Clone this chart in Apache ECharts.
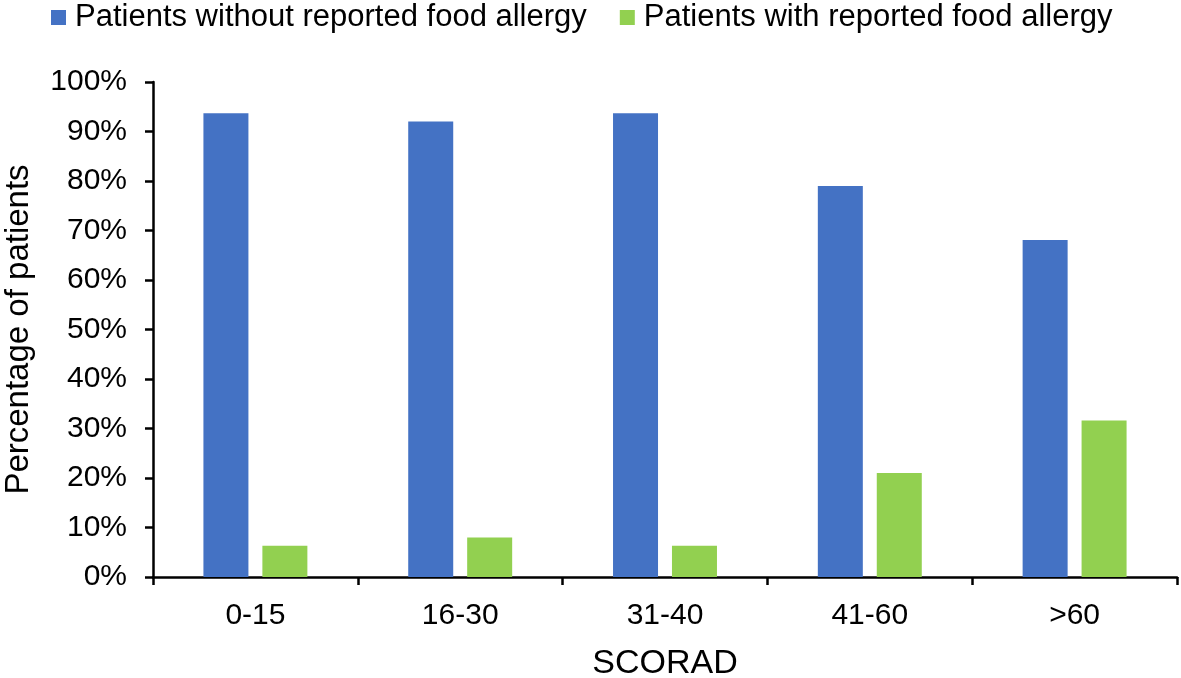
<!DOCTYPE html>
<html>
<head>
<meta charset="utf-8">
<script src="https://cdn.jsdelivr.net/npm/echarts@6/dist/echarts.min.js"></script>
<style>
html,body{margin:0;padding:0;background:#fff;}
#chart{width:1181px;height:678px;}
</style>
</head>
<body>
<div id="chart"></div>
<script>
const categories = ['0-15', '16-30', '31-40', '41-60', '>60'];
const withoutAllergy = [93.7, 92.0, 93.7, 79.0, 68.1];
const withAllergy = [6.3, 8.0, 6.3, 21.0, 31.6];
const seriesNames = ['Patients without reported food allergy', 'Patients with reported food allergy'];
const yTicks = [0, 10, 20, 30, 40, 50, 60, 70, 80, 90, 100];

const FONT = '"Liberation Sans", Arial, sans-serif';
const chart = echarts.init(document.getElementById('chart'), null, {renderer: 'canvas'});
chart.setOption({
  animation: false,
  backgroundColor: '#fff',
  textStyle: {fontFamily: FONT, color: '#000'},
  legend: {
    left: 51, top: 2, padding: 0,
    icon: 'rect', itemWidth: 15, itemHeight: 15, itemGap: 33,
    textStyle: {fontFamily: FONT, fontSize: 31, color: '#000', padding: [0, 0, 0, 4]},
    data: seriesNames
  },
  grid: {left: 153, right: 4, top: 82, bottom: 101, containLabel: false, outerBoundsMode: 'none'},
  xAxis: {
    type: 'category',
    data: categories,
    name: 'SCORAD', nameLocation: 'middle', nameGap: 70,
    nameTextStyle: {fontFamily: FONT, fontSize: 34, color: '#000'},
    axisLine: {lineStyle: {color: '#000', width: 2.5}},
    axisTick: {show: true, length: 8, lineStyle: {color: '#000', width: 2.5}},
    axisLabel: {fontFamily: FONT, fontSize: 30, color: '#000', margin: 24}
  },
  yAxis: {
    type: 'value', min: 0, max: 100, interval: 10,
    name: 'Percentage of patients', nameLocation: 'middle', nameGap: 118, nameRotate: 90,
    nameTextStyle: {fontFamily: FONT, fontSize: 33, color: '#000'},
    axisLine: {show: true, lineStyle: {color: '#000', width: 2.5}},
    axisTick: {show: true, length: 8, lineStyle: {color: '#000', width: 2.5}},
    splitLine: {show: false},
    axisLabel: {
      fontFamily: FONT, fontSize: 30, color: '#000', margin: 26,
      formatter: v => yTicks.includes(v) ? v + '%' : ''
    }
  },
  series: [
    {
      name: seriesNames[0], type: 'bar', data: withoutAllergy,
      barWidth: 45, barGap: '31%',
      itemStyle: {color: '#4472C4'}
    },
    {
      name: seriesNames[1], type: 'bar', data: withAllergy,
      barWidth: 45, barGap: '31%',
      itemStyle: {color: '#92D050'}
    }
  ]
});
</script>
</body>
</html>
